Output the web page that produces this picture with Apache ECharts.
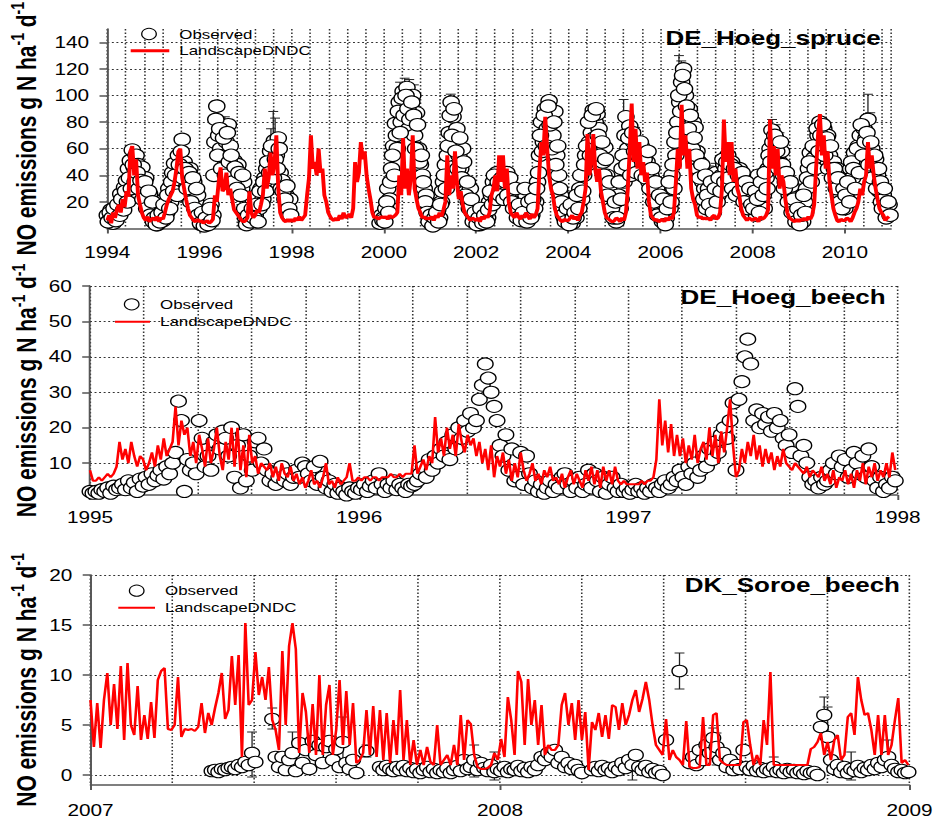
<!DOCTYPE html>
<html>
<head>
<meta charset="utf-8">
<title>NO emissions: observed vs LandscapeDNDC</title>
<script src="https://cdn.jsdelivr.net/npm/echarts@6/dist/echarts.min.js"></script>
<style>
  html, body { margin: 0; padding: 0; background: #fff; overflow: hidden; }
  #chart { height: 819px; transform-origin: 0 0; }
</style>
</head>
<body>
<div id="chart"></div>
<script>
// ---------------- DE_Hoeg_spruce: half-monthly values, 1994-2010 ----------------
const spruceStart = 1994;
const spruceStep = 1 / 24;
const spruceModel = [
  6, 10, 4, 12, 8, 14, 18, 12, 22, 16, 28, 24, 58, 62, 40, 52, 25, 18, 12, 8, 6, 9, 5, 7,
  8, 6, 9, 5, 8, 7, 12, 18, 22, 25, 28, 35, 45, 58, 60, 38, 30, 22, 15, 10, 8, 6, 5, 7,
  5, 6, 4, 5, 6, 4, 5, 7, 25, 20, 35, 46, 28, 30, 42, 25, 30, 22, 14, 12, 10, 8, 6, 5,
  6, 8, 28, 12, 8, 10, 14, 12, 18, 25, 45, 30, 38, 57, 40, 48, 70, 30, 12, 8, 6, 5, 7, 5,
  7, 5, 8, 6, 9, 6, 8, 10, 25, 38, 70, 45, 50, 40, 60, 42, 45, 25, 20, 12, 9, 7, 6, 8,
  6, 10, 7, 12, 8, 9, 11, 8, 15, 50, 35, 42, 65, 52, 58, 40, 30, 22, 12, 8, 9, 7, 8, 9,
  8, 9, 7, 10, 8, 9, 10, 12, 40, 25, 68, 30, 45, 25, 38, 70, 30, 22, 15, 12, 8, 9, 7, 8,
  7, 9, 6, 10, 8, 12, 9, 14, 20, 55, 25, 40, 30, 58, 35, 22, 28, 18, 12, 10, 8, 6, 8, 7,
  6, 8, 5, 9, 7, 10, 8, 12, 25, 30, 40, 28, 55, 35, 55, 30, 45, 20, 12, 10, 8, 12, 9, 7,
  10, 8, 12, 9, 7, 11, 8, 10, 15, 45, 65, 55, 84, 60, 40, 30, 25, 15, 10, 8, 6, 5, 7, 6,
  6, 8, 10, 7, 9, 6, 10, 12, 20, 30, 71, 40, 50, 71, 45, 35, 45, 28, 20, 12, 8, 7, 6, 5,
  6, 8, 7, 5, 8, 6, 12, 30, 60, 94, 50, 75, 45, 65, 40, 50, 35, 42, 20, 10, 8, 6, 7, 5,
  6, 7, 5, 8, 6, 9, 7, 12, 35, 60, 45, 93, 55, 70, 45, 60, 30, 22, 18, 10, 8, 9, 7, 8,
  7, 8, 6, 9, 10, 7, 8, 12, 30, 82, 50, 65, 40, 65, 35, 45, 30, 25, 15, 10, 8, 6, 8, 7,
  6, 8, 7, 5, 9, 7, 8, 10, 14, 82, 45, 62, 40, 60, 30, 40, 35, 22, 12, 8, 7, 6, 5, 7,
  5, 7, 6, 8, 6, 9, 7, 10, 18, 45, 70, 86, 55, 70, 45, 58, 35, 25, 15, 10, 6, 5, 7, 6,
  6, 8, 7, 5, 8, 12, 15, 20, 30, 25, 35, 40, 65, 45, 55, 40, 30, 22, 15, 12, 10, 6, 8, 9
];
// observations on the half-month marks
const spruceObserved = [
  10, 6, 14, 4, 12, 8, 16, 26, 20, 31, 36, 45, 51, 59, 46, 55, 48, 40, 46, 30, 38, 21, 26, 15,
  5, 12, 3, 8, 15, 6, 22, 12, 30, 20, 42, 49, 35, 55, 45, 67, 50, 40, 36, 45, 28, 35, 20, 25,
  8, 3, 10, 5, 12, 4, 18, 10, 65, 92, 70, 60, 76, 55, 65, 78, 62, 45, 51, 40, 48, 38, 30, 35,
  8, 4, 12, 6, 20, 10, 25, 15, 30, 22, 38, 45, 35, 58, 48, 66, 55, 68, 42, 36, 30, 25, 20, 22,
  null, null, null, null, null, null, null, null, null, null, null, null,
  null, null, null, null, null, null, null, null, null, null, null, null,
  null, null, null, null, null, null, null, null, null, null, null, null,
  null, null, null, null, null, null, null, null, null, null, 4, 10,
  8, 15, 30, 22, 45, 62, 79, 60, 95, 80, 103, 88, 106, 75, 92, 100, 70, 87, 60, 48, 40, 30, 25, 15,
  6, 3, 10, 5, 14, 8, 20, 35, 48, 55, 72, 95, 84, 65, 75, 55, 45, 60, 35, 28, 20, 30, 12, 8,
  5, 10, 3, 12, 6, 15, 8, 20, 25, 35, 30, 42, 38, 28, 40, 32, 42, 30, 25, 28, 18, 22, 12, 25,
  20, 8, 25, 12, 18, 10, 28, 20, 35, 55, 80, 65, 90, 75, 96, 85, 70, 88, 55, 40, 25, 15, 8, 12,
  6, 10, 4, 15, 8, 20, 30, 22, 40, 55, 48, 65, 72, 89, 80, 86, 75, 60, 50, 61, 40, 30, 20, 12,
  10, 5, 25, 15, 45, 35, 84, 60, 77, 55, 65, 50, 60, 48, 62, 55, 45, 50, 35, 40, 28, 20, 30, 15,
  12, 5, 18, 8, 25, 15, 40, 30, 55, 80, 95, 110, 120, 100, 85, 90, 70, 80, 76, 58, 50, 42, 35, 30,
  15, 30, 22, 38, 18, 42, 25, 35, 40, 48, 45, 55, 42, 50, 38, 44, 35, 45, 30, 38, 25, 30, 20, 28,
  25, 35, 10, 40, 20, 32, 15, 38, 45, 60, 74, 55, 68, 62, 50, 58, 40, 35, 30, 25, 32, 15, 10, 8,
  8, 15, 5, 20, 30, 45, 57, 50, 53, 60, 70, 80, 65, 75, 60, 70, 55, 48, 50, 40, 45, 30, 25, 20,
  15, 22, 30, 45, 38, 57, 50, 62, 70, 60, 75, 68, 82, 55, 60, 45, 52, 40, 28, 20, 25, 15, 12, 18
];
// observations between the half-month marks
const spruceObservedMid = [
  5, 12, 8, 15, 6, 18, 10, 22, 14, 28, 20, 38, 30, 48, 35, 42, 30, 36, 22, 35, 15, 28, 10, 20,
  8, 3, 10, 5, 12, 18, 8, 25, 15, 35, 28, 40, 25, 48, 58, 38, 45, 30, 42, 20, 38, 15, 30, 10,
  4, 12, 2, 8, 3, 15, 6, 40, 82, 55, 75, 45, 68, 40, 72, 50, 55, 35, 46, 30, 42, 25, 40, 15,
  3, 10, 5, 15, 8, 18, 5, 28, 18, 35, 28, 50, 42, 62, 38, 52, 45, 60, 30, 28, 22, 32, 15, 10,
  null, null, null, null, null, null, null, null, null, null, null, null,
  null, null, null, null, null, null, null, null, null, null, null, null,
  null, null, null, null, null, null, null, null, null, null, null, null,
  null, null, null, null, null, null, null, null, null, null, null, 6,
  5, 20, 12, 35, 55, 40, 70, 88, 72, 98, 85, 100, 90, 82, 95, 85, 60, 78, 50, 55, 35, 20, 12, 5,
  10, 2, 8, 12, 5, 18, 28, 40, 30, 62, 85, 70, 90, 58, 45, 68, 38, 50, 25, 35, 15, 22, 5, 12,
  3, 8, 15, 4, 10, 5, 14, 28, 18, 40, 22, 35, 25, 38, 22, 35, 25, 38, 20, 15, 30, 8, 18, 6,
  12, 30, 5, 20, 8, 22, 15, 30, 42, 70, 58, 85, 62, 92, 78, 60, 80, 48, 62, 30, 20, 10, 5, 15,
  3, 18, 8, 12, 25, 15, 40, 28, 48, 62, 80, 55, 85, 68, 90, 70, 55, 65, 40, 52, 25, 35, 15, 8,
  20, 8, 35, 22, 55, 70, 48, 68, 40, 72, 58, 42, 55, 65, 40, 52, 38, 58, 30, 45, 20, 35, 10, 25,
  8, 22, 3, 15, 35, 20, 48, 65, 72, 100, 88, 115, 105, 92, 75, 85, 60, 68, 55, 45, 38, 48, 22, 40,
  25, 18, 35, 12, 30, 20, 38, 28, 52, 35, 50, 38, 48, 30, 45, 25, 40, 28, 42, 20, 35, 15, 30, 18,
  15, 28, 22, 12, 35, 25, 42, 30, 55, 50, 65, 70, 58, 45, 65, 48, 30, 42, 20, 35, 12, 22, 5, 15,
  3, 10, 25, 12, 38, 50, 35, 62, 45, 75, 58, 70, 78, 55, 68, 45, 62, 38, 45, 30, 38, 20, 15, 30,
  25, 35, 20, 50, 45, 30, 60, 42, 78, 55, 65, 72, 48, 65, 38, 55, 30, 45, 35, 15, 30, 8, 20, 10
];
const spruceErrTime = [1996.37, 1996.55, 1996.62, 1997.55, 1997.6, 1997.64, 1997.68, 1997.9, 1997.96,
  2000.35, 2000.45, 2000.55, 2000.65, 2001.45, 2005.2, 2005.28, 2005.45, 2005.8,
  2006.4, 2006.45, 2006.5, 2006.55, 2006.62, 2006.7, 2006.8, 2007.05, 2007.2, 2007.35,
  2008.42, 2008.5, 2008.58, 2010.5, 2010.55, 2010.62];
const spruceErrLow = [88, 72, 70, 50, 45, 55, 50, 24, 18, 75, 95, 98, 90, 88, 70, 60, 60, 28,
  100, 112, 100, 88, 70, 55, 40, 28, 30, 40, 62, 55, 50, 62, 60, 30];
const spruceErrHigh = [96, 84, 82, 75, 88, 83, 70, 33, 30, 110, 113, 112, 108, 101, 97, 75, 76, 36,
  130, 126, 122, 105, 90, 65, 48, 47, 49, 52, 82, 78, 72, 101, 87, 48];
const spruceYearTicks = [1994, 1996, 1998, 2000, 2002, 2004, 2006, 2008, 2010];
const spruceValueTicks = [20, 40, 60, 80, 100, 120, 140];

// ---------------- DE_Hoeg_beech: 4-day values, 1995-1997 ----------------
const hoegBeechStart = 1995;
const hoegBeechStep = 4 / 365;
const hoegBeechModel = [
  8, 5, 5, 6, 5, 6, 7, 6, 7, 9,
  16, 11, 14, 10, 16, 12, 9, 12, 11, 8,
  10, 13, 9, 15, 11, 17, 12, 14, 16, 26,
  15, 22, 18, 20, 12, 16, 10, 18, 14, 9,
  17, 10, 14, 20, 12, 8, 16, 11, 20, 9,
  20, 8, 15, 6, 18, 10, 12, 7, 10, 9,
  8, 10, 6, 9, 5, 10, 7, 6, 9, 5,
  7, 4, 6, 3, 5, 8, 4, 5, 3, 6,
  10, 4, 5, 3, 6, 4, 5, 6, 10, 5,
  5, 6, 5, 6, 6, 5, 6, 6, 5, 6,
  6, 6, 7, 6, 6, 7, 6, 7, 7, 7,
  15, 7, 9, 11, 8, 12, 10, 23, 13, 17,
  12, 20, 14, 18, 12, 21, 16, 13, 18, 15,
  17, 12, 16, 10, 14, 8, 15, 6, 12, 9,
  13, 7, 11, 5, 10, 6, 13, 8, 5, 7,
  10, 5, 7, 4, 8, 6, 9, 5, 6, 4,
  7, 3, 6, 8, 4, 7, 5, 3, 8, 5,
  9, 4, 8, 3, 9, 5, 8, 4, 9, 5,
  4, 5, 4, 4, 4, 4, 4, 5, 4, 5,
  5, 6, 11, 28, 15, 22, 13, 21, 12, 18,
  12, 17, 10, 15, 11, 18, 10, 14, 16, 11,
  20, 12, 18, 10, 19, 13, 20, 28, 15, 6,
  8, 14, 10, 16, 12, 18, 11, 15, 9, 14,
  10, 13, 8, 12, 9, 14, 10, 9, 8, 10,
  9, 8, 7, 9, 6, 8, 7, 6, 9, 5,
  7, 4, 8, 3, 6, 5, 8, 4, 7, 3,
  8, 5, 10, 4, 9, 6, 10, 5, 8, 6,
  10, 6, 13, 8
];
const hoegBeechObserved = [
  2, 1.5, 2, 1.5, 2.5, 2, 3, 1.5, 3.5, 2.5,
  3, 4, 2.5, 5, 3, 4.5, 2, 5.5, 3.5, 6,
  4, 7, 5, 6.5, 8, 5.5, 9, 7, 10, 13,
  27.5, 22, 2, 11, 8, 10, 7, 22, 17, 9,
  12, 8, 16, 18, 14, 19, 17, 12, 20, 6,
  15, 3, 18, 5, 12, 8, 16, 17, 10, 14,
  8, 5, 7, 4, 6, 9, 5, 7, 4, 6,
  8, 6, 10, 9, 7, 5, 9, 4, 10.5, 6,
  3, 5, 2, 4, 1.5, 3, 2, 1, 3, 2,
  1.5, 3, 2.5, 4, 2, 3.5, 5, 3, 7, 4,
  2, 4, 3, 5, 2.5, 4, 3, 2, 4, 3.5,
  4, 5, 7, 9, 6, 11, 8, 12, 10, 14,
  12, 16, 11, 18, 14, 20, 17, 22, 19, 24,
  20, 22, 28, 32, 38, 34, 30, 26, 22, 15,
  12, 18, 8, 14, 5, 6, 13, 4, 12, 7,
  3, 5, 2, 4, 1.5, 3, 5, 2, 4, 3,
  6, 7, 4, 2, 5, 3, 6, 2, 4, 8,
  3, 7, 5, 2, 6, 1.5, 4, 6, 3, 2,
  4, 2, 3, 1.5, 2.5, 4, 2, 3, 1.5, 3,
  2, 4, 3, 2, 4, 5, 3, 4, 6, 5,
  8, 6, 4, 9, 7, 10, 6, 8, 12, 9,
  14, 11, 16, 13, 18, 20, 17, 22, 27, 8,
  28, 33, 40, 45, 38, 22, 25, 20, 24, 21,
  23, 19, 24, 20, 22, 17, 15, 18, 13, 31,
  26, 12, 15, 10, 6, 4, 5, 3, 6, 4,
  5, 8, 10, 7, 12, 9, 11, 6, 8, 13,
  10, 7, 12, 6, 14, 9, 5, 3, 6, 2,
  4, 3, 6, 5
];
const hoegBeechYearTicks = [1995, 1996, 1997, 1998];
const hoegBeechValueTicks = [10, 20, 30, 40, 50, 60];

// ---------------- DK_Soroe_beech: 3-day values, 2007-2008 ----------------
const soroeStart = 2007;
const soroeStep = 3 / 365;
const soroeModel = [
  7.5, 2.8, 7.2, 2.7, 7.5, 10.2, 5, 9.1, 4.6, 10.9, 3.5,
  11.2, 5, 4, 8.9, 3.5, 6, 3.6, 7.3, 3.7, 9.5,
  10.4, 10.7, 4.6, 4.5, 5, 9.8, 3.8, 4.6, 4.5, 4.6,
  4.4, 4.8, 7.2, 4.2, 6.2, 5, 6.7, 8.2, 10.2, 5.6,
  6.5, 11.9, 7, 12, 1.8, 15.2, 7, 7.5, 12.3, 8,
  9.8, 7.5, 10.8, 5.5, 4.5, 2.5, 12.4, 5, 12.9, 15.2,
  12.6, 2.2, 8.2, 6.3, 2.2, 7.1, 2, 10, 2, 7,
  9, 2, 4.5, 9.5, 3, 8.4, 3, 7.2, 1.2, 1.5,
  2.2, 6.5, 2, 6.9, 1.8, 6.5, 1.5, 6.2, 1.2, 5.5,
  2, 8.5, 1.5, 5.5, 1, 3.5, 1, 2.5, 1, 2.8,
  1.3, 1, 5, 1, 1.5, 2, 1, 3, 1, 6, 1.5, 5.5,
  5.1, 2, 0.8, 0.6, 0.6, 0.7, 1, 2.2, 1.5, 3.6,
  1.8, 7.8, 5.5, 2, 10.4, 9.3, 3, 9.6, 5, 7.5,
  3, 7, 2, 3, 2.5, 2.5, 3, 7, 8.2, 5,
  7.2, 3.5, 7.5, 3.5, 6.3, 0.5, 5.3, 4.5, 6.2, 3.8,
  6, 3.6, 7, 6.8, 4.5, 7.2, 5, 6, 7.5, 8.5,
  6.3, 7.6, 9.3, 7.5, 5, 3, 2.5, 2, 5.6, 1.5,
  2.5, 1.8, 1.5, 1, 5.4, 0.8, 0.7, 0.7, 0.8, 5.8,
  1, 1, 6, 6.2, 1.5, 1.2, 1, 1, 1, 1,
  1, 5.3, 5.5, 3, 1, 2, 1, 5.5, 3, 10.3,
  1, 1, 1, 1, 1, 1, 1, 1, 1, 1,
  1, 2.6, 2.8, 3.3, 4.2, 2, 3.3, 1.5, 3.5, 4,
  1.5, 2, 5.8, 6.2, 4, 9.8, 7.5, 6, 6.2, 4.5,
  2, 6, 2, 6, 2, 3, 5.5, 7.7, 1.2, 1.5, 1.0
];
const soroeObserved = [
  null, null, null, null, null, null, null, null, null, null, null, null,
  null, null, null, null, null, null, null, null, null, null, null, null,
  null, null, null, null, null, null, null, null, null, null, null, null,
  0.4, 0.5, 0.3, 0.6, 0.5, 0.7, 0.8, 0.6, 1.0, 0.8, 1.3, 1.0, 2.2, 1.3,
  null, null, null, null,
  5.6, 1.8, 0.8, 1.8, 0.5, 1.5, 2.2, 0.4, 3.2, 1.2, 2.5, 0.6, 3.4, 2.0, 3.0, 1.2,
  2.8, 3.4, 1.5, 2.6, 0.8, 3.3, 1.2, 0.6, 1.5, 0.2,
  null, null, 2.4, null, null, null,
  0.8, 0.5, 0.9, 0.6, 0.4, 0.8, 0.5, 0.9, 0.4, 0.7, 0.3, 0.6, 0.2, 0.5, 0.8, 0.3,
  0.6, 0.2, 0.5, 0.3, 0.7, 0.2, 0.5, 0.9, 0.4, 1.5, 0.6,
  0.8, 1.5, 0.5, 1.2, 0.7, 0.4, 1.0, 0.3, 0.6, 0.4, 0.8, 0.3, 0.6, 0.5, 0.9, 0.4, 0.7,
  0.3, 0.8, 0.5, 1.0, 1.8, 1.5, 2.2, 1.8, 2.5, 1.2, 1.8, 0.8, 1.2, 0.6, 1.0, 0.5, 0.2,
  null, null,
  0.5, 0.8, 0.4, 0.9, 0.5, 0.7, 0.3, 0.8, 0.5, 1.2, 0.7, 1.5, 1.0, 2.0, 0.8, 0.5,
  0.9, 0.3, 0.6, 0.2, 0.4, 0.0, 3.5,
  null, null, null, 10.4, null, null,
  1.2, 1.8, 1.0, 2.5, 1.5, 3.0, 2.2, 3.7, 2.8, 1.5, 2.2, 0.8, 1.5, 0.5, 1.0, 0.6,
  2.5, 0.8, 0.5, 0.9, 0.4, 0.7, 0.3, 0.6, 0.4, 0.8, 0.3, 0.5, 0.2, 0.6, 0.3, 0.5,
  0.2, 0.4, 0.1, 0.4, 0.2, 0.3, 0.0,
  4.8, 6.0, 3.8, 1.5, 0.6, 1.0, 0.3, 0.8, 0.2, 0.6, 0.4, 0.9, 0.3, 0.7, 0.5, 1.0,
  0.6, 1.2, 0.8, 1.5, 1.8, 1.0, 0.6, 0.3, 0.5, 0.2, 0.3
];
const soroeErrDay = [144, 162, 180, 225, 246, 342, 360, 453, 483, 525, 555, 558, 609, 654, 657, 678, 711];
const soroeErrLow = [-0.2, 4.6, 1.5, 1.2, 1.8, -0.2, -0.5, 0.2, -0.5, 8.6, 2.2, 1.0, -0.1, 4.5, 3.5, -0.5, 0.5];
const soroeErrHigh = [4.3, 6.7, 4.3, 5.8, 3.0, 3.0, 2.3, 1.3, 2.0, 12.2, 4.7, 4.2, 1.8, 7.8, 6.8, 2.3, 3.5];
const soroeYearTicks = [2007, 2008, 2009];
const soroeValueTicks = [0, 5, 10, 15, 20];

// ---------------- layout and drawing ----------------
const FONT = '"Liberation Sans", Arial, Helvetica, sans-serif';
const STRETCH = 1.3;            // the figure is drawn wide: glyphs and circles are stretched horizontally
const PAGE_W = 935;
const sx = v => v / STRETCH;    // page x (px) -> chart x

const chartEl = document.getElementById('chart');
chartEl.style.width = sx(PAGE_W) + 'px';
chartEl.style.transform = 'scaleX(' + STRETCH + ')';

const AXIS_COLOR = '#555';
const GRID_LINE = { color: '#000', type: [1.5, 2], width: 1.2, opacity: 0.8 };
const RED = '#ff0000';

function toPoints(values, start, step, offset) {
  const out = [];
  values.forEach((v, i) => { if (v !== null) out.push([start + (i + (offset || 0)) * step, v]); });
  return out;
}
function toErrors(times, lows, highs) {
  return times.map((t, i) => [t, lows[i], highs[i]]);
}

function yAxisFor(gridIndex, min, max, ticks, nameGap) {
  return {
    type: 'value', gridIndex, min, max,
    axisLine: { show: true, onZero: false, lineStyle: { color: AXIS_COLOR, width: 1.5 } },
    axisTick: { show: true, length: 6, customValues: ticks, lineStyle: { color: AXIS_COLOR, width: 1.5 } },
    axisLabel: { customValues: ticks, color: '#000', fontSize: 16, fontFamily: FONT, margin: 14 },
    splitLine: { show: true, lineStyle: GRID_LINE },
    name: '{b|NO emissions g N ha}{s|-1}{b| d}{s|-1}',
    nameLocation: 'middle', nameRotate: 90, nameGap, nameMoveOverlap: false,
    nameTextStyle: {
      rich: {
        b: { fontSize: 21, fontWeight: 'bold', fontFamily: FONT, color: '#000', lineHeight: 28 },
        s: { fontSize: 14, fontWeight: 'bold', fontFamily: FONT, color: '#000', lineHeight: 14, verticalAlign: 'top' }
      }
    }
  };
}
function yearAxis(gridIndex, min, max, ticks, margin) {
  return {
    type: 'value', gridIndex, min, max, position: 'bottom',
    axisLine: { show: true, onZero: false, lineStyle: { color: AXIS_COLOR, width: 1.5 } },
    axisTick: { show: true, length: 5, customValues: ticks, lineStyle: { color: AXIS_COLOR, width: 1.5 } },
    axisLabel: { customValues: ticks, formatter: v => String(Math.round(v)), color: '#000',
                 fontSize: 16, fontFamily: FONT, margin },
    splitLine: { show: false }
  };
}
function gridLineAxis(gridIndex, min, max, interval) {
  return {
    type: 'value', gridIndex, min, max, interval, position: 'bottom',
    axisLine: { show: false }, axisTick: { show: false }, axisLabel: { show: false },
    splitLine: { show: true, lineStyle: GRID_LINE }
  };
}

function errorBarItem(params, api) {
  const x = api.value(0);
  const top = api.coord([x, api.value(2)]);
  const bot = api.coord([x, api.value(1)]);
  const hw = 3.8;
  const style = { stroke: '#222', lineWidth: 1 };
  return {
    type: 'group',
    children: [
      { type: 'line', shape: { x1: top[0], y1: top[1], x2: bot[0], y2: bot[1] }, style },
      { type: 'line', shape: { x1: top[0] - hw, y1: top[1], x2: top[0] + hw, y2: top[1] }, style },
      { type: 'line', shape: { x1: bot[0] - hw, y1: bot[1], x2: bot[0] + hw, y2: bot[1] }, style }
    ]
  };
}

function panelSeries(axisX, axisY, observedSets, model, errors, circleSize, lineWidth) {
  const list = [];
  if (errors) {
    list.push({ type: 'custom', xAxisIndex: axisX, yAxisIndex: axisY, renderItem: errorBarItem,
                data: errors, encode: { x: 0, y: [1, 2] }, z: 2, silent: true });
  }
  observedSets.forEach(points => {
    list.push({ type: 'scatter', name: 'Observed', xAxisIndex: axisX, yAxisIndex: axisY, data: points,
                symbol: 'circle', symbolSize: circleSize, silent: true, z: 3,
                itemStyle: { color: '#fff', borderColor: '#000', borderWidth: 1.1, opacity: 1 } });
  });
  list.push({ type: 'line', name: 'LandscapeDNDC', xAxisIndex: axisX, yAxisIndex: axisY, data: model,
              showSymbol: false, symbol: 'none', silent: true, z: 4,
              lineStyle: { color: RED, width: lineWidth } });
  return list;
}

function textEl(text, x, y, size, bold, align) {
  return { type: 'text', x: sx(x), y, z: 100, silent: true,
           style: { text, fill: '#000', fontSize: size, fontWeight: bold ? 'bold' : 'normal', fontFamily: FONT,
                    align, verticalAlign: 'middle', textAlign: align, textVerticalAlign: 'middle' } };
}
function legendBlock(cx, cy, textX, lx1, lx2, ly, lw) {
  return [
    { type: 'circle', z: 100, silent: true, shape: { cx: sx(cx), cy, r: 5.6 },
      style: { fill: '#fff', stroke: '#000', lineWidth: 1 } },
    textEl('Observed', textX, cy, 13, false, 'left'),
    { type: 'line', z: 100, silent: true, shape: { x1: sx(lx1), y1: ly, x2: sx(lx2), y2: ly },
      style: { stroke: RED, lineWidth: lw } },
    textEl('LandscapeDNDC', textX, ly, 13, false, 'left')
  ];
}

const chart = echarts.init(chartEl, null, { renderer: 'svg' });
chart.setOption({
  animation: false,
  backgroundColor: '#fff',
  textStyle: { fontFamily: FONT },
  grid: [
    { left: sx(107.3), top: 29, width: sx(783.7), height: 199.5, outerBoundsMode: 'none' },
    { left: sx(90), top: 286, width: sx(807.5), height: 209, outerBoundsMode: 'none' },
    { left: sx(90.5), top: 575, width: sx(819), height: 210, outerBoundsMode: 'none' }
  ],
  xAxis: [
    yearAxis(0, 1994, 2011, spruceYearTicks, 16),
    gridLineAxis(0, 1994, 2011, 0.4),
    yearAxis(1, 1995, 1998, hoegBeechYearTicks, 14),
    gridLineAxis(1, 1995, 1998, 0.2),
    yearAxis(2, 2007, 2009, soroeYearTicks, 17),
    gridLineAxis(2, 2007, 2009, 0.2)
  ],
  yAxis: [
    yAxisFor(0, 0, 150, spruceValueTicks, 48),
    yAxisFor(1, 1, 60, hoegBeechValueTicks, 34.5),
    yAxisFor(2, -1, 20, soroeValueTicks, 35)
  ],
  series: [
    ...panelSeries(0, 0, [toPoints(spruceObserved, spruceStart, spruceStep),
                          toPoints(spruceObservedMid, spruceStart, spruceStep, 0.5)],
                   toPoints(spruceModel, spruceStart, spruceStep),
                   toErrors(spruceErrTime, spruceErrLow, spruceErrHigh), 12.5, 3),
    ...panelSeries(2, 1, [toPoints(hoegBeechObserved, hoegBeechStart, hoegBeechStep)],
                   toPoints(hoegBeechModel, hoegBeechStart, hoegBeechStep), null, 12, 2),
    ...panelSeries(4, 2, [toPoints(soroeObserved, soroeStart, soroeStep)],
                   toPoints(soroeModel, soroeStart, soroeStep),
                   toErrors(soroeErrDay.map(d => soroeStart + d / 365), soroeErrLow, soroeErrHigh), 11.5, 2)
  ],
  graphic: [
    textEl('DE_Hoeg_spruce', 880.7, 38.3, 20, true, 'right'),
    textEl('DE_Hoeg_beech', 885.7, 296.7, 20, true, 'right'),
    textEl('DK_Soroe_beech', 900, 585, 20, true, 'right'),
    ...legendBlock(149, 34, 179.3, 130.7, 169.3, 50.7, 3),
    ...legendBlock(131.7, 304.3, 160, 115, 150, 321.7, 2),
    ...legendBlock(136.7, 590.7, 165, 118.3, 155, 607.7, 2)
  ]
});
</script>
</body>
</html>
